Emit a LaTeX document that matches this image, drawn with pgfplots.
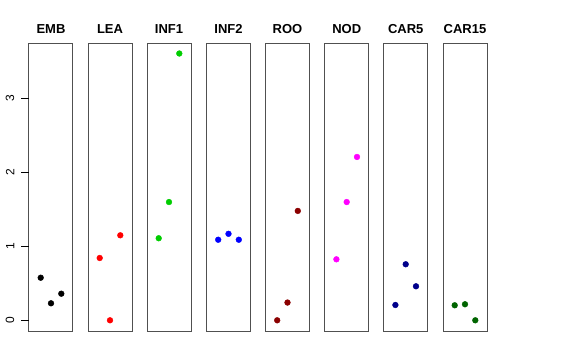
\documentclass[border=0pt]{standalone}
\usepackage{pgfplots}
\pgfplotsset{compat=1.18}
\usepackage{fontspec}
\setmainfont{Liberation Sans}
\definecolor{rgreen}{RGB}{0,205,0}
\definecolor{rdarkred}{RGB}{139,0,0}
\definecolor{rdarkblue}{RGB}{0,0,139}
\definecolor{rdarkgreen}{RGB}{0,100,0}
\definecolor{rmagenta}{RGB}{255,0,255}
\definecolor{rred}{RGB}{255,0,0}
\definecolor{rblue}{RGB}{0,0,255}
\definecolor{rframe}{RGB}{80,80,80}
\pgfplotsset{
  panel/.style={
    scale only axis, width=44pt, height=288pt,
    anchor=south west,
    xmin=-0.136, xmax=4.136, ymin=-0.145, ymax=3.752,
    axis line style={rframe, line width=1pt},
    clip=false,
  },
}
\newcommand\panel[4]{%
  \begin{axis}[panel, at={(#1pt,29pt)}, xtick=\empty, ytick=\empty]
    \addplot[only marks, mark=*, mark size=2.9pt, color=#3] coordinates {#4};
    \node[anchor=base, font=\bfseries\fontsize{13}{15}\selectfont] at (rel axis cs:0.5,1) [yshift=9.3pt] {#2};
  \end{axis}%
}
\begin{document}
\begin{tikzpicture}
\path (0,0) rectangle (576pt,360pt);
\begin{axis}[panel, at={(29pt,29pt)}, xtick=\empty,
  ytick={0,1,2,3}, ytick pos=left, tick align=outside,
  major tick length=7.5pt, tick style={black, line width=0.9pt},
  yticklabel style={rotate=90, anchor=south, inner sep=0pt, font=\fontsize{12}{14}\selectfont, yshift=7pt},
  /pgf/number format/assume math mode=true]
  \addplot[only marks, mark=*, mark size=2.9pt, color=black] coordinates {(1,0.576) (2,0.23) (3,0.36)};
  \node[anchor=base, font=\bfseries\fontsize{13}{15}\selectfont] at (rel axis cs:0.5,1) [yshift=9.3pt] {EMB};
  \foreach \t in {0,1,2,3} {
    \edef\temp{\noexpand\draw[black, line width=0.9pt] (axis cs:-0.136,\t) -- ([xshift=-7.5pt]axis cs:-0.136,\t);}
    \temp
  }
\end{axis}
\panel{88}{LEA}{rred}{(1,0.843) (2,0) (3,1.15)}
\panel{147}{INF1}{rgreen}{(1,1.11) (2,1.60) (3,3.61)}
\panel{206.5}{INF2}{rblue}{(1,1.09) (2,1.17) (3,1.09)}
\panel{265.5}{ROO}{rdarkred}{(1,0) (2,0.24) (3,1.48)}
\panel{324.7}{NOD}{rmagenta}{(1,0.825) (2,1.60) (3,2.21)}
\panel{383.7}{CAR5}{rdarkblue}{(1,0.207) (2,0.758) (3,0.46)}
\panel{443}{CAR15}{rdarkgreen}{(1,0.203) (2,0.217) (3,0)}
\end{tikzpicture}
\end{document}
